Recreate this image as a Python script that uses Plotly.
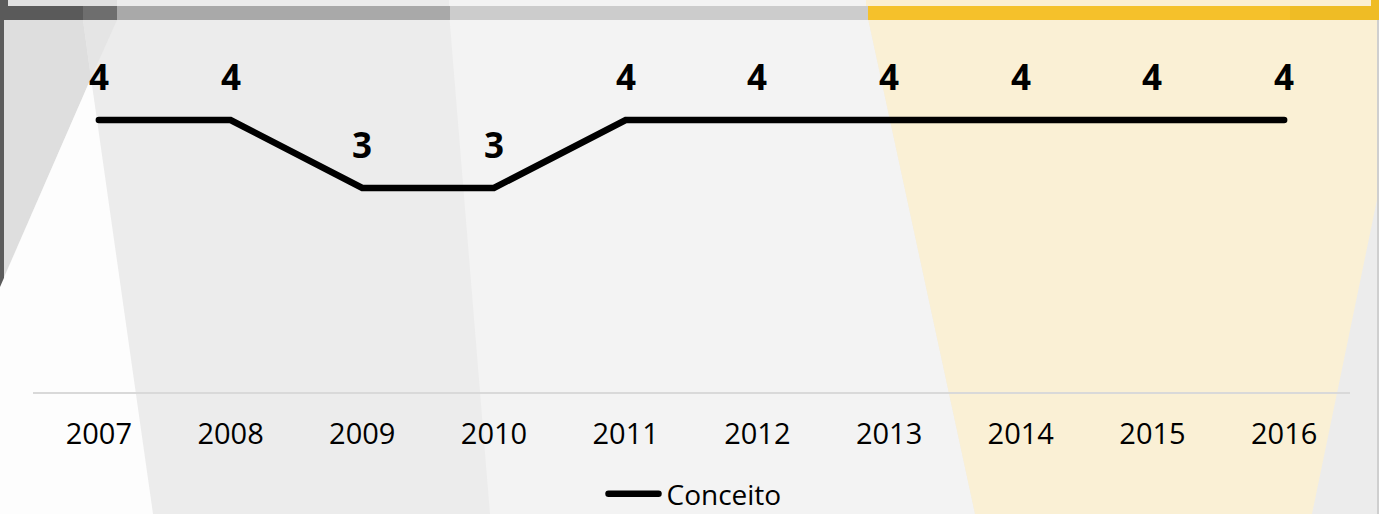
import plotly.graph_objects as go

# ---- data ----
years = ["2007", "2008", "2009", "2010", "2011", "2012", "2013", "2014", "2015", "2016"]
conceito = [4, 4, 3, 3, 4, 4, 4, 4, 4, 4]
series_name = "Conceito"

W, H = 1379, 514
ML, MR, MT, MB = 33, 29, 52, 122
PW = W - ML - MR
PH = H - MT - MB


def px(x):
    return (x - ML) / PW


def py(y):
    return (H - MB - y) / PH


def poly(points, color, layer="below"):
    d = "M " + " L ".join(f"{px(x):.5f},{py(y):.5f}" for x, y in points) + " Z"
    return dict(type="path", path=d, xref="paper", yref="paper", layer=layer,
                fillcolor=color, line=dict(width=0))


def rect(x0, y0, x1, y1, color, layer="below"):
    return poly([(x0, y0), (x1, y0), (x1, y1), (x0, y1)], color, layer)


shapes = [
    # left dark strip
    rect(0, 0, 4, 290, "#5c5c5c"),
    # region A light gray
    poly([(4, 0), (83, 0), (83, 20), (91, 78), (4, 277)], "#dedede"),
    poly([(83, 0), (117, 0), (117, 20), (91, 78), (83, 20)], "#e5e5e5"),
    # white wedge
    poly([(91, 78), (0, 287), (0, 514), (153, 514)], "#fdfdfd"),
    # lighter panel
    poly([(448, 0), (864, 0), (975, 514), (490, 514)], "#f3f3f3"),
    # yellow trapezoid
    poly([(864, 0), (1379, 0), (1379, 190), (1312, 514), (975, 514)], "#faf0d5"),
    # right edge line
    rect(1377, 20, 1379, 514, "#cfcfcf"),
    # top strip (above the bar)
    rect(4, 0, 117, 6.5, "#e0e0e0"),
    rect(117, 0, 449, 6.5, "#ececec"),
    rect(449, 0, 866, 6.5, "#f3f3f3"),
    rect(866, 0, 1371, 6.5, "#fbefd2"),
    # top bar segments
    rect(0, 6, 83, 20, "#5a5a5a"),
    rect(83, 6, 117, 20, "#6e6e6e"),
    rect(117, 6, 450, 20, "#a9a9a9"),
    rect(450, 6, 868, 20, "#cccccc"),
    rect(868, 6, 1290, 20, "#f5c12b"),
    rect(1290, 6, 1379, 20, "#efbc25"),
    # top corners
    rect(0, 0, 8, 6, "#5a5a5a"),
    rect(1371, 0, 1379, 6, "#efbc25"),
]

fig = go.Figure()
fig.add_trace(go.Scatter(
    x=years, y=conceito, mode="lines", name=series_name,
    line=dict(color="#000000", width=6.5),
    hoverinfo="skip",
))

annotations = [
    dict(x=i, y=v, xref="x", yref="y", text=f"<b>{v}</b>", showarrow=False,
         yshift=44, font=dict(family="Open Sans", size=35, color="#000000"))
    for i, v in enumerate(conceito)
]

fig.update_layout(
    width=W, height=H, autosize=False,
    margin=dict(l=ML, r=MR, t=MT, b=MB, pad=0, autoexpand=False),
    paper_bgcolor="#ececec",
    plot_bgcolor="rgba(0,0,0,0)",
    shapes=shapes,
    annotations=annotations,
    showlegend=True,
    legend=dict(orientation="h", x=0.5, xanchor="center", xref="paper",
                yref="container", y=(H - 494) / H, yanchor="middle",
                itemwidth=60,
                bgcolor="rgba(0,0,0,0)",
                font=dict(family="Open Sans", size=28, color="#000000")),
    xaxis=dict(type="category", range=[-0.5, 9.5], showgrid=False, zeroline=False,
               showline=True, linecolor="#d9d9d9", linewidth=1.5, automargin=False,
               ticks="outside", ticklen=15, tickcolor="rgba(0,0,0,0)",
               tickfont=dict(family="Open Sans", size=29, color="#000000")),
    yaxis=dict(range=[0, 5], showgrid=False, zeroline=False, showline=False,
               showticklabels=False, ticks="", automargin=False),
    font=dict(family="Open Sans"),
)

post = """
document.body.style.margin='0px';document.body.style.padding='0px';document.body.style.overflow='hidden';
function fixUp(){
  document.querySelectorAll('.scatterlayer .js-line').forEach(function(p){p.style.strokeLinecap='round';});
  document.querySelectorAll('.legend .legendlines path').forEach(function(p){p.setAttribute('d','M12,0h50');p.style.strokeLinecap='round';});
}
fixUp(); setTimeout(fixUp, 30); setTimeout(fixUp, 300);
"""

fig.write_html("out.html", config={"displayModeBar": False}, post_script=post)
